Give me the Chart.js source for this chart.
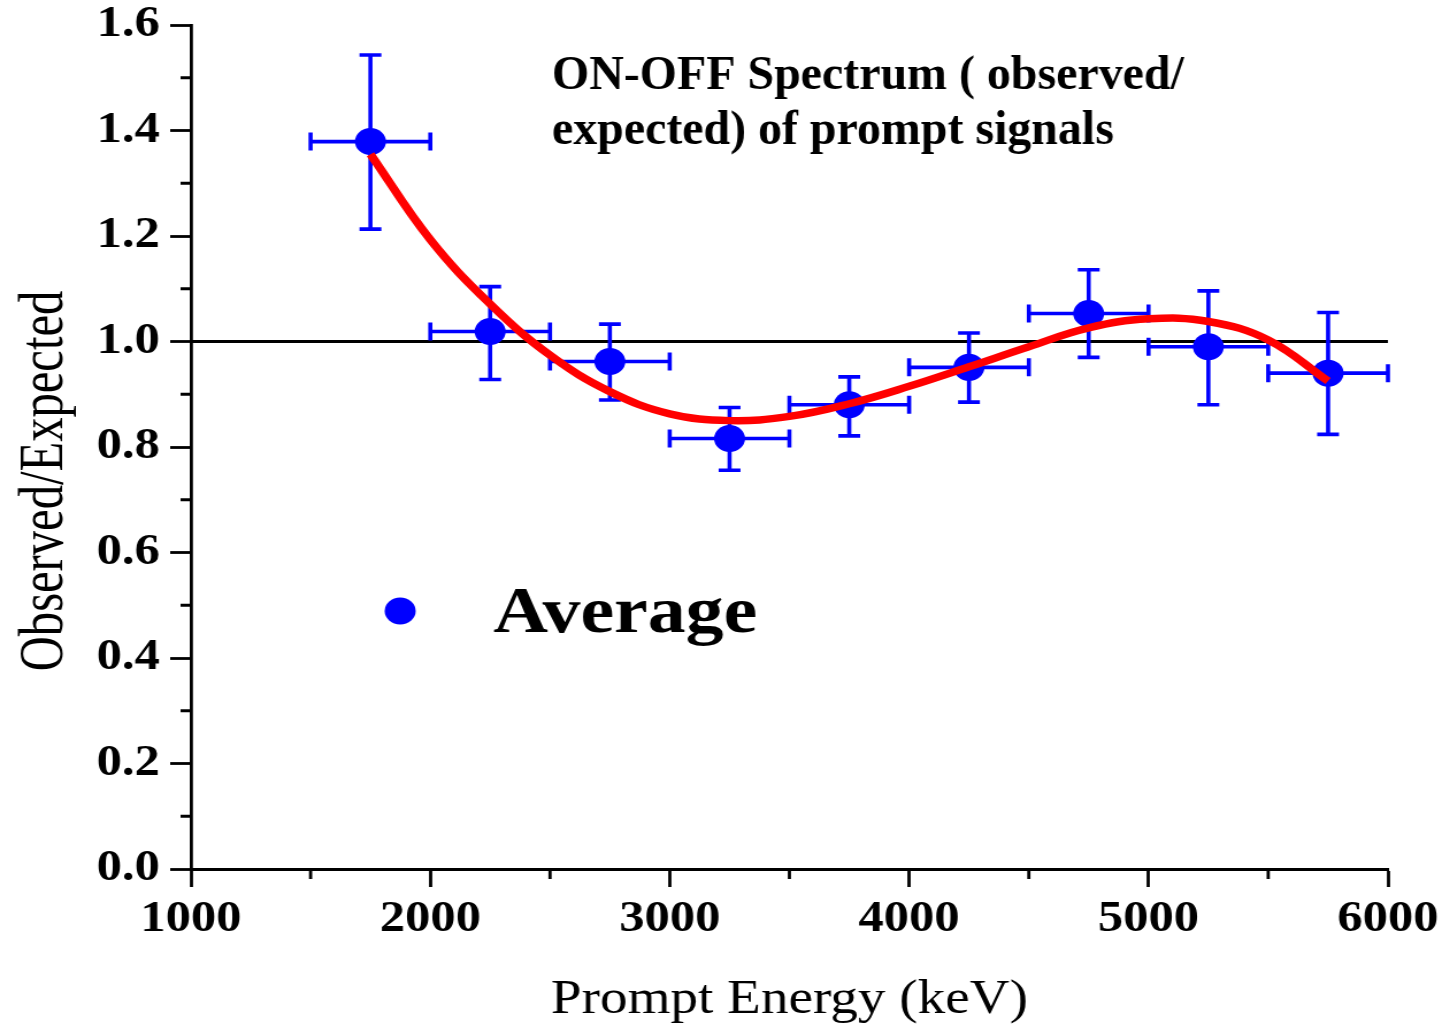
<!DOCTYPE html>
<html>
<head>
<meta charset="utf-8">
<script src="https://cdn.jsdelivr.net/npm/chart.js@4/dist/chart.umd.min.js"></script>
<style>
  body { margin: 0; background: #fff; overflow: hidden; }
  /* the figure is a bit wider than tall: stretch the canvas sideways */
  #wrap { width: 1254px; height: 1025px; transform: scaleX(1.1499); transform-origin: 0 0; }
</style>
</head>
<body>
<div id="wrap"><canvas id="myChart" width="1254" height="1025"></canvas></div>
<script>
// bin centres (keV) and the measured ratio with its error range
const energies = [1750, 2250, 2750, 3250, 3750, 4250, 4750, 5250, 5750];
const ratios   = [1.379, 1.019, 0.962, 0.816, 0.880, 0.951, 1.053, 0.990, 0.940];
const ratioHi  = [1.543, 1.104, 1.033, 0.875, 0.933, 1.016, 1.136, 1.096, 1.055];
const ratioLo  = [1.213, 0.928, 0.889, 0.756, 0.821, 0.885, 0.970, 0.880, 0.824];
const binHalfWidth = 250;

// fitted curve
const fitEnergies = [1750, 2000, 2250, 2500, 2750, 3000, 3250, 3500, 3750, 4000, 4250, 4500, 4750, 5000, 5250, 5500, 5750];
const fitValues   = [1.355, 1.193, 1.071, 0.974, 0.905, 0.863, 0.850, 0.858, 0.882, 0.915, 0.952, 0.990, 1.026, 1.043, 1.038, 1.003, 0.925];

const xTicks = [1000, 2000, 3000, 4000, 5000, 6000];
const xMinorTicks = [1500, 2500, 3500, 4500, 5500];
const yTicks = [0, 0.2, 0.4, 0.6, 0.8, 1.0, 1.2, 1.4, 1.6];
const yMinorTicks = [0.1, 0.3, 0.5, 0.7, 0.9, 1.1, 1.3, 1.5];

const titleLines = ['ON-OFF Spectrum ( observed/', 'expected) of prompt signals'];
const legendLabel = 'Average';

const SERIF = '"Liberation Serif", "Times New Roman", serif';
const BLUE = '#0000ff';

const pointData = energies.map((e, i) => ({ x: e, y: ratios[i] }));
const fitData = fitEnergies.map((e, i) => ({ x: e, y: fitValues[i] }));
const refLine = [{ x: xTicks[0], y: 1 }, { x: xTicks[xTicks.length - 1], y: 1 }];

// error bars go in just before the dots are drawn
const errorBars = {
    id: 'errorBars',
    beforeDatasetDraw(chart, args) {
        if (args.index !== 1) return;
        const ctx = chart.ctx, xs = chart.scales.x, ys = chart.scales.y;
        ctx.save();
        ctx.strokeStyle = BLUE;
        ctx.lineWidth = 3.6;
        for (let i = 0; i < energies.length; i++) {
            const px = xs.getPixelForValue(energies[i]);
            const py = ys.getPixelForValue(ratios[i]);
            const top = ys.getPixelForValue(ratioHi[i]);
            const bot = ys.getPixelForValue(ratioLo[i]);
            const l = xs.getPixelForValue(energies[i] - binHalfWidth);
            const r = xs.getPixelForValue(energies[i] + binHalfWidth);
            ctx.beginPath();
            ctx.moveTo(px, top); ctx.lineTo(px, bot);
            ctx.moveTo(px - 9.5, top); ctx.lineTo(px + 9.5, top);
            ctx.moveTo(px - 9.5, bot); ctx.lineTo(px + 9.5, bot);
            ctx.moveTo(l, py); ctx.lineTo(r, py);
            ctx.moveTo(l, py - 9); ctx.lineTo(l, py + 9);
            ctx.moveTo(r, py - 9); ctx.lineTo(r, py + 9);
            ctx.stroke();
        }
        ctx.restore();
    }
};

// minor ticks, title block, legend and y axis title
const decorations = {
    id: 'decorations',
    afterDraw(chart) {
        const ctx = chart.ctx, xs = chart.scales.x, ys = chart.scales.y;
        const area = chart.chartArea;
        ctx.save();
        ctx.strokeStyle = '#000';
        ctx.lineWidth = 2.8;
        ctx.beginPath();
        for (const v of yMinorTicks) {
            const py = ys.getPixelForValue(v);
            ctx.moveTo(area.left - 9, py); ctx.lineTo(area.left, py);
        }
        for (const v of xMinorTicks) {
            const px = xs.getPixelForValue(v);
            ctx.moveTo(px, area.bottom); ctx.lineTo(px, area.bottom + 10);
        }
        ctx.stroke();

        // title block, narrow bold serif
        ctx.fillStyle = '#000';
        ctx.textAlign = 'left';
        ctx.textBaseline = 'alphabetic';
        ctx.save();
        ctx.translate(480, 0);
        ctx.scale(0.85, 1);
        ctx.font = 'bold 49px ' + SERIF;
        ctx.fillText(titleLines[0], 0, 89);
        ctx.fillText(titleLines[1], 0, 144);
        ctx.restore();

        // legend
        ctx.fillStyle = BLUE;
        ctx.beginPath();
        ctx.arc(348, 611, 13.5, 0, Math.PI * 2);
        ctx.fill();
        ctx.fillStyle = '#000';
        ctx.font = 'bold 66px ' + SERIF;
        ctx.fillText(legendLabel, 429, 632);

        // y axis title
        ctx.translate(54, 481);
        ctx.rotate(-Math.PI / 2);
        ctx.scale(0.9, 1);
        ctx.textAlign = 'center';
        ctx.font = '54px ' + SERIF;
        ctx.fillText('Observed/Expected', 0, 0);
        ctx.restore();
    }
};

const ctx = document.getElementById('myChart').getContext('2d');
const myChart = new Chart(ctx, {
    type: 'scatter',
    data: {
        datasets: [
            {
                label: 'fit',
                data: fitData,
                showLine: true,
                borderColor: '#ff0000',
                borderWidth: 7.5,
                tension: 0.4,
                pointRadius: 0,
                order: 0
            },
            {
                label: legendLabel,
                data: pointData,
                backgroundColor: BLUE,
                borderColor: BLUE,
                borderWidth: 0,
                pointRadius: 13.5,
                order: 1
            },
            {
                label: 'unity',
                data: refLine,
                showLine: true,
                borderColor: '#000',
                borderWidth: 3,
                pointRadius: 0,
                order: 3
            }
        ]
    },
    options: {
        responsive: false,
        animation: false,
        events: [],
        layout: { padding: { left: 0, top: 25, right: 47, bottom: 0 } },
        plugins: {
            legend: { display: false },
            tooltip: { enabled: false }
        },
        scales: {
            x: {
                type: 'linear',
                min: 1000,
                max: 6000,
                afterBuildTicks: axis => { axis.ticks = xTicks.map(v => ({ value: v })); },
                afterFit: axis => {
                    axis.height = 156;
                    axis.paddingLeft = 0;
                    axis.paddingRight = 0;
                },
                grid: { drawOnChartArea: false, tickLength: 18, tickWidth: 2.8, tickColor: '#000' },
                border: { display: true, color: '#000', width: 3 },
                ticks: {
                    color: '#000',
                    padding: 11,
                    maxRotation: 0,
                    callback: v => String(v),
                    font: { family: SERIF, size: 44, weight: 'bold', lineHeight: 1 }
                },
                title: {
                    display: true,
                    text: 'Prompt Energy (keV)',
                    color: '#000',
                    font: { family: SERIF, size: 48, lineHeight: 1 },
                    padding: { top: 0, bottom: 1 }
                }
            },
            y: {
                min: 0,
                max: 1.6,
                afterBuildTicks: axis => { axis.ticks = yTicks.map(v => ({ value: v })); },
                afterFit: axis => {
                    axis.width = 166;
                    axis.paddingTop = 0;
                    axis.paddingBottom = 0;
                },
                grid: { drawOnChartArea: false, tickLength: 18, tickWidth: 2.8, tickColor: '#000' },
                border: { display: true, color: '#000', width: 2.8 },
                ticks: {
                    color: '#000',
                    padding: 9,
                    callback: v => v.toFixed(1),
                    font: { family: SERIF, size: 44, weight: 'bold', lineHeight: 1 }
                }
            }
        }
    },
    plugins: [errorBars, decorations]
});
</script>
</body>
</html>
